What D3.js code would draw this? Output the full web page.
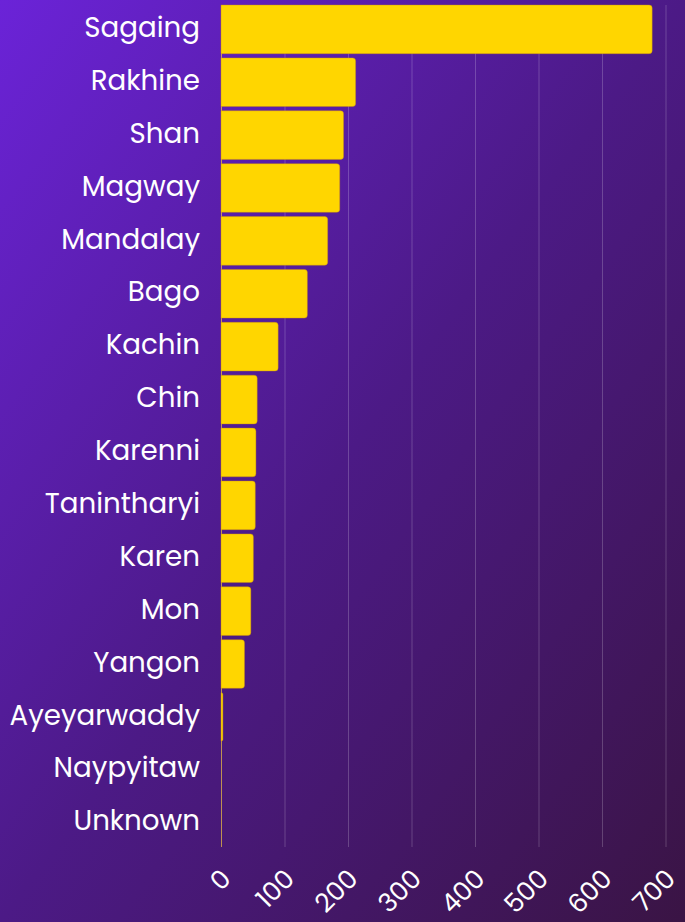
<!DOCTYPE html>
<meta charset="utf-8">
<script src="https://d3js.org/d3.v7.min.js"></script>
<style>
  body { margin: 0; }
  svg { display: block; }
  .label { font-family: "Poppins", "Noto Sans", sans-serif; fill: #fff; }
</style>
<body>
<svg id="chart" width="685" height="922"></svg>
<script>
// Data: fatalities by region
var regions = ["Sagaing", "Rakhine", "Shan", "Magway", "Mandalay", "Bago", "Kachin", "Chin",
  "Karenni", "Tanintharyi", "Karen", "Mon", "Yangon", "Ayeyarwaddy", "Naypyitaw", "Unknown"];
var counts = [679, 212, 193, 187, 168, 136, 90, 57, 55, 54, 51, 47, 37, 3, 0, 0];
var xTicks = [0, 100, 200, 300, 400, 500, 600, 700];

var svg = d3.select("#chart"),
  width = +svg.attr("width"),
  height = +svg.attr("height");

var margin = {top: 5, right: 20, bottom: 75, left: 221};

// background gradient
var defs = svg.append("defs");
var grad = defs.append("linearGradient")
  .attr("id", "bg")
  .attr("x1", "0%").attr("y1", "0%")
  .attr("x2", "100%").attr("y2", "100%");
grad.append("stop").attr("offset", "0%").attr("stop-color", "#6b23d8");
grad.append("stop").attr("offset", "50%").attr("stop-color", "#4c1a86");
grad.append("stop").attr("offset", "100%").attr("stop-color", "#3a1444");

svg.append("rect")
  .attr("width", width).attr("height", height)
  .attr("fill", "url(#bg)");

var x = d3.scaleLinear()
  .domain([0, 700])
  .range([margin.left, margin.left + 444.5]);

var y = d3.scaleBand()
  .domain(regions)
  .range([margin.top, height - margin.bottom])
  .paddingInner(0.08)
  .paddingOuter(0);

// gridlines
svg.append("g")
  .selectAll("line")
  .data(xTicks)
  .enter()
  .append("line")
    .attr("x1", d => x(d) + 0.5)
    .attr("x2", d => x(d) + 0.5)
    .attr("y1", margin.top)
    .attr("y2", height - margin.bottom)
    .attr("stroke", d => d === 0 ? "rgba(255,210,60,0.65)" : "rgba(255,255,255,0.2)")
    .attr("stroke-width", 1);

// bars, rounded on the right end only
function barPath(x0, x1, y0, h, r) {
  var w = x1 - x0;
  r = Math.min(r, w, h / 2);
  if (w <= 0) return "";
  return "M" + x0 + "," + y0 +
    "H" + (x1 - r) +
    "Q" + x1 + "," + y0 + " " + x1 + "," + (y0 + r) +
    "V" + (y0 + h - r) +
    "Q" + x1 + "," + (y0 + h) + " " + (x1 - r) + "," + (y0 + h) +
    "H" + x0 + "Z";
}

svg.append("g")
  .selectAll("path")
  .data(regions)
  .enter()
  .append("path")
    .attr("d", (d, i) => barPath(x(0), x(counts[i]), y(d), y.bandwidth(), 3))
    .attr("fill", "#ffd600")
    .attr("stroke", "rgba(200,140,20,0.7)")
    .attr("stroke-width", 0.6);

// region labels
svg.append("g")
  .selectAll("text")
  .data(regions)
  .enter()
  .append("text")
    .attr("class", "label")
    .attr("x", 200)
    .attr("y", d => y(d) + y.bandwidth() / 2 - 2)
    .attr("dy", "0.35em")
    .attr("text-anchor", "end")
    .style("font-size", "27.7px")
    .text(d => d);

// x tick labels, rotated
svg.append("g")
  .selectAll("text")
  .data(xTicks)
  .enter()
  .append("text")
    .attr("class", "label")
    .attr("transform", d => "translate(" + (x(d) + 5) + "," + 874 + ") rotate(-45)")
    .attr("text-anchor", "end")
    .attr("dy", "0.35em")
    .style("font-size", "26px")
    .text(d => d);
</script>
</body>
